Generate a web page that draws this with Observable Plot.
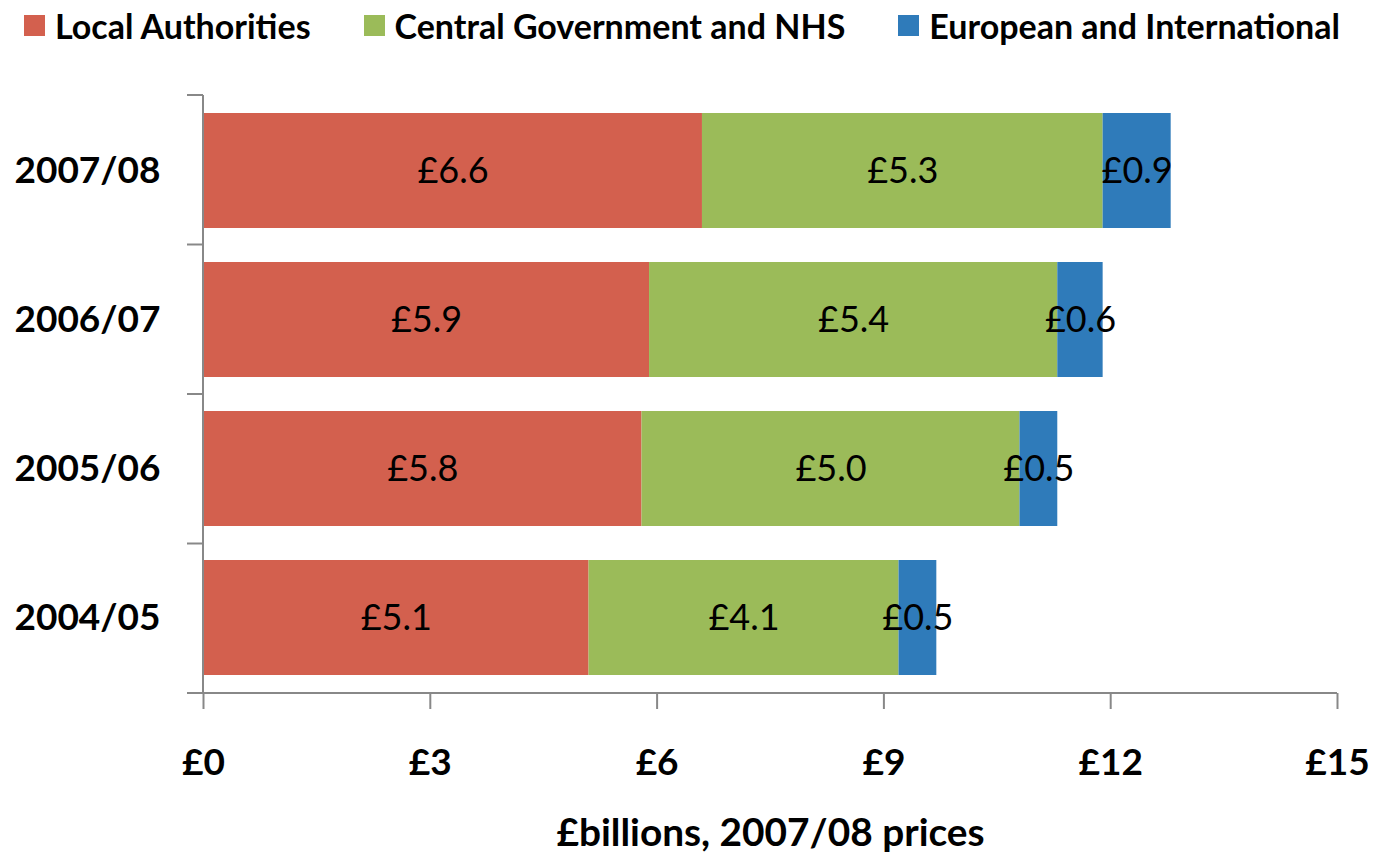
<!DOCTYPE html>
<html><head><meta charset="utf-8">
<script src="https://cdn.jsdelivr.net/npm/d3@7"></script>
<script src="https://cdn.jsdelivr.net/npm/@observablehq/plot@0.6"></script>
<style>
html,body{margin:0;padding:0;background:#fff;}
body{font-family:Lato,"Open Sans",sans-serif;width:1375px;height:856px;overflow:hidden;}
#legend{height:50px;display:flex;align-items:center;padding-left:24px;box-sizing:border-box;}
.item{display:flex;align-items:center;margin-right:53px;font-size:34px;font-weight:bold;color:#000;white-space:nowrap;}
.sw{width:21px;height:21px;margin-right:10px;}
</style>
</head><body>
<div id="legend"></div>
<div id="chart"></div>
<script>
const years = ["2007/08", "2006/07", "2005/06", "2004/05"];
const seriesNames = ["Local Authorities", "Central Government and NHS", "European and International"];
const localAuthorities = [6.6, 5.9, 5.8, 5.1];
const centralGovNHS = [5.3, 5.4, 5.0, 4.1];
const europeanIntl = [0.9, 0.6, 0.5, 0.5];
const colors = ["#D3604E", "#9BBB59", "#2F7BBA"];
const xTicks = [0, 3, 6, 9, 12, 15];
const xLabel = "£billions, 2007/08 prices";

const seriesValues = [localAuthorities, centralGovNHS, europeanIntl];
const data = [];
years.forEach((year, i) => {
  seriesNames.forEach((s, j) => data.push({year, series: s, value: seriesValues[j][i]}));
});

// legend
const legend = document.getElementById("legend");
seriesNames.forEach((s, j) => {
  const it = document.createElement("div");
  it.className = "item";
  const sw = document.createElement("div");
  sw.className = "sw";
  sw.style.background = colors[j];
  const t = document.createElement("span");
  t.textContent = s;
  it.appendChild(sw); it.appendChild(t);
  legend.appendChild(it);
});

const axisColor = "#888888";

function frameLines(index, scales, values, dims) {
  const x = scales.x;
  const top = dims.marginTop, bottom = dims.height - dims.marginBottom;
  const n = years.length;
  const x0 = x(0), xEnd = x(xTicks[xTicks.length - 1]);
  const g = d3.create("svg:g").attr("stroke", axisColor).attr("stroke-width", 2).attr("fill", "none");
  g.append("line").attr("x1", x0).attr("x2", x0).attr("y1", top).attr("y2", bottom);
  g.append("line").attr("x1", x0 - 16).attr("x2", xEnd).attr("y1", bottom).attr("y2", bottom);
  for (let i = 0; i < n; i++) {
    const yy = top + i * (bottom - top) / n;
    g.append("line").attr("x1", x0 - 16).attr("x2", x0).attr("y1", yy).attr("y2", yy);
  }
  return g.node();
}

const chart = Plot.plot({
  width: 1375,
  height: 806,
  marginTop: 45,
  marginBottom: 163,
  marginLeft: 203,
  marginRight: 38,
  style: {fontFamily: "Lato, 'Open Sans', sans-serif", background: "#fff", color: "#000"},
  x: {domain: [0, 15]},
  y: {domain: years, paddingInner: 0.225, paddingOuter: 0.1125},
  color: {domain: seriesNames, range: colors},
  marks: [
    Plot.barX(data, Plot.stackX({x: "value", y: "year", fill: "series"})),
    Plot.text(data, Plot.stackX({x: "value", y: "year", text: d => "£" + d.value.toFixed(1), fontSize: 36, fill: "#000"})),
    Plot.axisY({tickSize: 0, tickPadding: 43, fontSize: 37, fontWeight: "bold", label: null}),
    Plot.axisX({ticks: xTicks, tickSize: 16, tickPadding: 39, stroke: axisColor, strokeWidth: 2, fontSize: 37, fontWeight: "bold",
      tickFormat: d => "£" + d, label: null}),
    Plot.axisX({ticks: [], tickSize: 0, fontSize: 38.8, fontWeight: "bold",
      label: xLabel, labelAnchor: "center", labelArrow: "none", labelOffset: 152})
    , frameLines
  ]
});
document.getElementById("chart").appendChild(chart);
</script>
</body></html>
